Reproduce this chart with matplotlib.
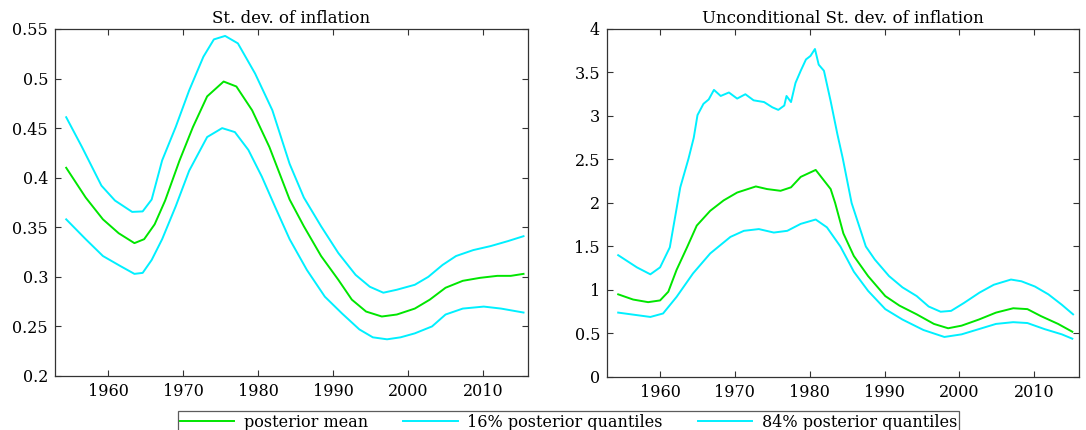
import numpy as np
import matplotlib
matplotlib.use('Agg')
import matplotlib.pyplot as plt
from matplotlib.ticker import FuncFormatter

plt.rcParams['font.family'] = ['DejaVu Serif']

# --- left panel: St. dev. of inflation ---
l_mean_x = [1954.4, 1957.0, 1959.3, 1961.4, 1963.5, 1964.8, 1966.2, 1967.6, 1969.5, 1971.3,
            1973.2, 1975.4, 1977.1, 1979.2, 1981.5, 1984.2, 1986.1, 1988.4, 1990.7, 1992.5,
            1994.4, 1996.5, 1998.5, 2000.9, 2002.9, 2005.0, 2007.3, 2009.6, 2011.9, 2013.7, 2015.4]
l_mean_y = [0.410, 0.380, 0.358, 0.344, 0.334, 0.338, 0.353, 0.377, 0.417, 0.451,
            0.482, 0.497, 0.492, 0.468, 0.431, 0.378, 0.351, 0.321, 0.297, 0.277,
            0.265, 0.260, 0.262, 0.268, 0.277, 0.289, 0.296, 0.299, 0.301, 0.301, 0.303]

l_q84_x = [1954.4, 1956.5, 1959.1, 1960.9, 1963.2, 1964.6, 1965.8, 1967.2, 1969.0, 1970.8,
           1972.7, 1974.1, 1975.6, 1977.3, 1979.6, 1981.9, 1984.2, 1986.1, 1988.4, 1990.7,
           1993.0, 1994.9, 1996.7, 1998.5, 2000.9, 2002.7, 2004.6, 2006.4, 2008.7, 2011.0,
           2013.3, 2015.4]
l_q84_y = [0.461, 0.431, 0.392, 0.377, 0.3655, 0.366, 0.378, 0.4175, 0.451, 0.488,
           0.522, 0.5395, 0.543, 0.5355, 0.505, 0.468, 0.414, 0.380, 0.351, 0.324,
           0.302, 0.290, 0.284, 0.287, 0.292, 0.300, 0.312, 0.321, 0.327, 0.331,
           0.336, 0.341]

l_q16_x = [1954.4, 1957.0, 1959.3, 1961.6, 1963.5, 1964.6, 1965.8, 1967.2, 1969.0, 1970.8,
           1973.2, 1975.2, 1976.9, 1978.7, 1980.5, 1982.3, 1984.2, 1986.5, 1988.9, 1991.2,
           1993.5, 1995.3, 1997.2, 1999.0, 2000.9, 2003.2, 2005.0, 2007.3, 2010.1, 2012.4, 2015.4]
l_q16_y = [0.358, 0.338, 0.321, 0.311, 0.303, 0.304, 0.317, 0.338, 0.371, 0.407,
           0.441, 0.450, 0.446, 0.428, 0.401, 0.370, 0.338, 0.307, 0.280, 0.263,
           0.247, 0.239, 0.237, 0.239, 0.243, 0.250, 0.262, 0.268, 0.270, 0.268, 0.264]

# --- right panel: Unconditional St. dev. of inflation ---
r_mean_x = [1954.4, 1956.4, 1958.4, 1960.0, 1961.1, 1962.2, 1963.6, 1964.9, 1966.7, 1968.5,
            1970.3, 1972.8, 1974.3, 1976.1, 1977.5, 1978.8, 1980.8, 1982.8, 1983.4, 1984.5,
            1985.9, 1987.8, 1990.1, 1992.0, 1994.3, 1996.6, 1998.5, 2000.3, 2002.6, 2004.9,
            2007.2, 2009.1, 2010.9, 2013.2, 2015.1]
r_mean_y = [0.95, 0.89, 0.86, 0.88, 0.98, 1.23, 1.49, 1.74, 1.91, 2.03,
            2.12, 2.19, 2.16, 2.14, 2.18, 2.30, 2.38, 2.16, 2.00, 1.65,
            1.39, 1.16, 0.93, 0.82, 0.72, 0.61, 0.56, 0.59, 0.66, 0.74,
            0.79, 0.78, 0.70, 0.61, 0.52]

r_q84_x = [1954.4, 1956.9, 1958.7, 1960.0, 1961.3, 1962.7, 1963.8, 1964.5, 1965.0, 1965.8,
           1966.5, 1967.2, 1968.1, 1969.2, 1970.3, 1971.4, 1972.5, 1973.9, 1975.0, 1975.8,
           1976.6, 1976.9, 1977.5, 1978.1, 1978.8, 1979.5, 1980.1, 1980.7, 1981.2, 1981.9,
           1982.8, 1983.7, 1984.4, 1985.6, 1987.5, 1988.7, 1990.6, 1992.4, 1994.3, 1995.9,
           1997.5, 1998.9, 2000.6, 2002.7, 2004.6, 2006.9, 2008.3, 2010.1, 2011.9, 2013.7,
           2015.2]
r_q84_y = [1.40, 1.26, 1.18, 1.26, 1.49, 2.18, 2.51, 2.75, 3.01, 3.14,
           3.19, 3.30, 3.23, 3.27, 3.20, 3.25, 3.18, 3.16, 3.10, 3.07,
           3.12, 3.23, 3.16, 3.38, 3.52, 3.65, 3.69, 3.77, 3.59, 3.52,
           3.17, 2.79, 2.52, 2.00, 1.50, 1.35, 1.16, 1.03, 0.93, 0.81,
           0.75, 0.76, 0.85, 0.97, 1.06, 1.12, 1.10, 1.04, 0.95, 0.83,
           0.72]

r_q16_x = [1954.4, 1958.7, 1960.4, 1962.2, 1964.4, 1966.7, 1969.4, 1971.2, 1973.2, 1975.2,
           1977.0, 1978.8, 1980.8, 1982.3, 1984.1, 1985.9, 1987.8, 1990.1, 1992.4, 1995.2,
           1998.0, 2000.3, 2002.6, 2004.9, 2007.2, 2009.1, 2011.4, 2013.7, 2015.1]
r_q16_y = [0.74, 0.69, 0.73, 0.92, 1.19, 1.42, 1.61, 1.68, 1.70, 1.66,
           1.68, 1.76, 1.81, 1.72, 1.50, 1.21, 0.99, 0.78, 0.66, 0.54,
           0.46, 0.49, 0.55, 0.61, 0.63, 0.62, 0.55, 0.49, 0.44]

titles = ['St. dev. of inflation', 'Unconditional St. dev. of inflation']
labels = ['posterior mean', '16% posterior quantiles', '84% posterior quantiles']
xticks = [1960, 1970, 1980, 1990, 2000, 2010]
l_yticks = [0.2, 0.25, 0.3, 0.35, 0.4, 0.45, 0.5, 0.55]
r_yticks = [0, 0.5, 1, 1.5, 2, 2.5, 3, 3.5, 4]

green = '#00e600'
cyan = '#00f0ff'

fig = plt.figure(figsize=(10.86, 4.30), dpi=100)
ax1 = fig.add_axes([0.0506, 0.1256, 0.4356, 0.8070])
ax2 = fig.add_axes([0.5589, 0.1233, 0.4347, 0.8093])

panels = [(ax1, l_mean_x, l_mean_y, l_q16_x, l_q16_y, l_q84_x, l_q84_y, l_yticks),
          (ax2, r_mean_x, r_mean_y, r_q16_x, r_q16_y, r_q84_x, r_q84_y, r_yticks)]

fmt = FuncFormatter(lambda v, p: '%g' % v)
for (ax, mx, my, lx, ly, ux, uy, yt), title in zip(panels, titles):
    h1, = ax.plot(mx, my, color=green, lw=1.4)
    h2, = ax.plot(lx, ly, color=cyan, lw=1.4)
    h3, = ax.plot(ux, uy, color=cyan, lw=1.4)
    ax.set_xlim(1952.9, 2016.0)
    ax.set_ylim(yt[0], yt[-1])
    ax.set_xticks(xticks)
    ax.set_yticks(yt)
    ax.yaxis.set_major_formatter(fmt)
    ax.tick_params(direction='in', top=True, right=True, length=4,
                   width=0.8, labelsize=11.5, color='#333333', pad=5)
    for s in ax.spines.values():
        s.set_color('#333333')
        s.set_linewidth(0.9)
    ax.set_title(title, fontsize=12, pad=4)

leg = fig.legend([h1, h2, h3], labels, loc='upper center', ncol=3,
                 bbox_to_anchor=(0.5235, 0.062), fontsize=11.5, frameon=True,
                 fancybox=False, edgecolor='#333333', borderpad=0.15,
                 handlelength=3.4, columnspacing=2.2, handletextpad=0.6)
leg.get_frame().set_linewidth(0.9)

fig.savefig('out.png', dpi=100)
